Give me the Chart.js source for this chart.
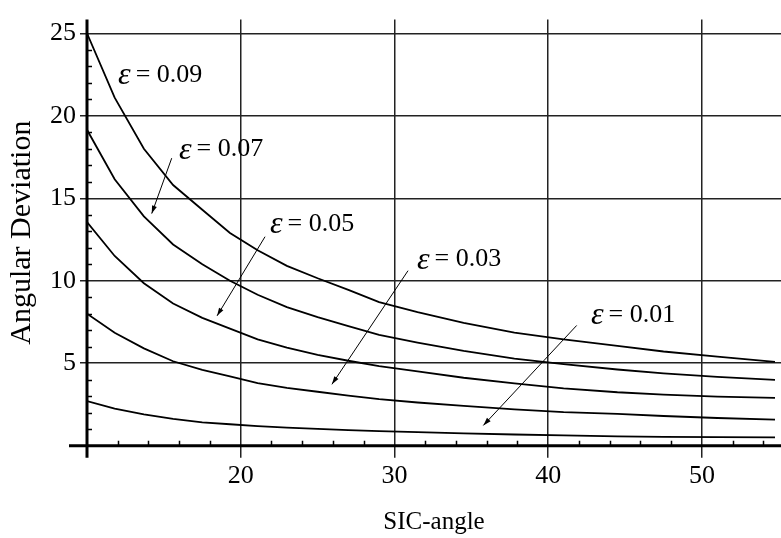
<!DOCTYPE html>
<html><head><meta charset="utf-8">
<style>html,body{margin:0;padding:0;background:#fff;}#wrap{width:781px;height:538px;}</style>
<script src="https://cdn.jsdelivr.net/npm/chart.js@4/dist/chart.umd.min.js"></script>
</head><body><div id="wrap"><canvas id="c" width="781" height="538"></canvas></div>
<script>
const xValues = [10, 11.8, 13.7, 15.6, 17.5, 19.3, 21.1, 23, 25, 27, 29, 31.5, 34.5, 37.8, 41, 44.5, 47.5, 51, 54.75];
const eps09 = [25.0, 21.1, 18.0, 15.8, 14.3, 12.9, 11.85, 10.9, 10.15, 9.45, 8.7, 8.1, 7.45, 6.86, 6.45, 6.05, 5.71, 5.4, 5.08];
const eps07 = [19.15, 16.15, 13.9, 12.2, 11.0, 10.0, 9.15, 8.4, 7.8, 7.25, 6.72, 6.25, 5.75, 5.28, 4.95, 4.62, 4.38, 4.17, 3.99];
const eps05 = [13.55, 11.5, 9.85, 8.62, 7.75, 7.1, 6.45, 5.95, 5.5, 5.15, 4.83, 4.5, 4.12, 3.78, 3.48, 3.24, 3.1, 2.98, 2.9];
const eps03 = [8.0, 6.85, 5.9, 5.12, 4.59, 4.2, 3.79, 3.5, 3.27, 3.03, 2.82, 2.62, 2.42, 2.2, 2.03, 1.93, 1.8, 1.68, 1.58];
const eps01 = [2.71, 2.25, 1.9, 1.62, 1.42, 1.3, 1.19, 1.1, 1.02, 0.95, 0.88, 0.82, 0.75, 0.68, 0.62, 0.57, 0.54, 0.52, 0.5];
const xTickValues = [20, 30, 40, 50];
const yTickValues = [5, 10, 15, 20, 25];
const epsLabels = ['0.09', '0.07', '0.05', '0.03', '0.01'];
const labelX = [12.02, 15.98, 21.9, 31.46, 42.78];
const labelY = [22.47, 17.96, 13.44, 11.30, 7.94];
const arrowFromX = [null, 15.51, 21.58, 30.88, 41.85];
const arrowFromY = [null, 17.43, 12.67, 10.61, 7.29];
const arrowToX = [null, 14.21, 18.46, 25.93, 35.78];
const arrowToY = [null, 14.07, 7.87, 3.72, 1.23];
const xLabel = 'SIC-angle';
const yLabel = 'Angular Deviation';

const FONT = 'Liberation Serif, Times New Roman, serif';
const series = [eps09, eps07, eps05, eps03, eps01];

const decor = {
  id: 'decor',
  afterDatasetsDraw(chart) {
    const ctx = chart.ctx, xs = chart.scales.x, ys = chart.scales.y;
    const x0 = xs.getPixelForValue(10), y0 = ys.getPixelForValue(0);
    ctx.save();
    ctx.strokeStyle = '#000';
    ctx.lineWidth = 1.5;
    ctx.beginPath();
    for (let v = 12; v <= 54; v += 2) {
      if (v % 10 === 0) continue;
      const p = Math.round(xs.getPixelForValue(v)) + 0.5;
      ctx.moveTo(p, y0); ctx.lineTo(p, y0 - 5);
    }
    for (let v = 1; v <= 25; v++) {
      if (v % 5 === 0) continue;
      const p = Math.round(ys.getPixelForValue(v)) + 0.5;
      ctx.moveTo(x0, p); ctx.lineTo(x0 + 5, p);
    }
    ctx.stroke();
    ctx.lineWidth = 3;
    ctx.beginPath();
    ctx.moveTo(x0, chart.chartArea.top); ctx.lineTo(x0, y0 + 12);
    ctx.moveTo(x0 - 18, y0); ctx.lineTo(chart.chartArea.right, y0);
    ctx.stroke();
    ctx.fillStyle = '#000';
    ctx.textBaseline = 'middle';
    ctx.textAlign = 'left';
    for (let i = 0; i < epsLabels.length; i++) {
      let px = xs.getPixelForValue(labelX[i]);
      const py = ys.getPixelForValue(labelY[i]);
      ctx.font = 'italic 32px ' + FONT;
      ctx.fillText('\u03B5', px, py + 1);
      px += ctx.measureText('\u03B5').width + 5;
      ctx.font = '26px ' + FONT;
      ctx.fillText('= ' + epsLabels[i], px, py);
      if (arrowFromX[i] !== null) {
        const ax = xs.getPixelForValue(arrowFromX[i]), ay = ys.getPixelForValue(arrowFromY[i]);
        const bx = xs.getPixelForValue(arrowToX[i]), by = ys.getPixelForValue(arrowToY[i]);
        ctx.lineWidth = 1;
        ctx.beginPath(); ctx.moveTo(ax, ay); ctx.lineTo(bx, by); ctx.stroke();
        const ang = Math.atan2(by - ay, bx - ax), L = 8, W = 2.5;
        ctx.beginPath();
        ctx.moveTo(bx, by);
        ctx.lineTo(bx - L * Math.cos(ang) + W * Math.sin(ang), by - L * Math.sin(ang) - W * Math.cos(ang));
        ctx.lineTo(bx - L * Math.cos(ang) - W * Math.sin(ang), by - L * Math.sin(ang) + W * Math.cos(ang));
        ctx.closePath(); ctx.fill();
      }
    }
    ctx.restore();
  }
};

new Chart(document.getElementById('c'), {
  type: 'line',
  data: {
    datasets: series.map(s => ({
      data: xValues.map((x, i) => ({x: x, y: s[i]})),
      borderColor: '#000', borderWidth: 1.8, pointRadius: 0, tension: 0, fill: false
    }))
  },
  options: {
    responsive: false, animation: false, devicePixelRatio: 1,
    layout: {padding: {top: 10, right: 0, left: 0, bottom: 0}},
    plugins: {legend: {display: false}, tooltip: {enabled: false}},
    scales: {
      x: {
        type: 'linear', min: 10, max: 55.14,
        afterBuildTicks: s => { s.ticks = xTickValues.map(v => ({value: v})); },
        afterFit: s => { s.height = 92.3; },
        grid: {color: '#222', lineWidth: 1.5, tickLength: 12, drawTicks: true},
        border: {display: false},
        ticks: {color: '#000', font: {family: FONT, size: 26}, padding: 3, maxRotation: 0, autoSkip: false},
        title: {display: true, text: xLabel, color: '#000', font: {family: FONT, size: 25}, padding: {top: 0, bottom: 1}}
      },
      y: {
        type: 'linear', min: 0, max: 25.83,
        afterBuildTicks: s => { s.ticks = yTickValues.map(v => ({value: v})); },
        afterFit: s => { s.width = 87; },
        grid: {color: '#222', lineWidth: 1.5, tickLength: 7, drawTicks: true},
        border: {display: false},
        ticks: {color: '#000', font: {family: FONT, size: 26}, padding: 4, autoSkip: false},
        title: {display: true, text: yLabel, color: '#000', font: {family: FONT, size: 30}, padding: {top: 4, bottom: 0}}
      }
    }
  },
  plugins: [decor]
});
</script></body></html>
